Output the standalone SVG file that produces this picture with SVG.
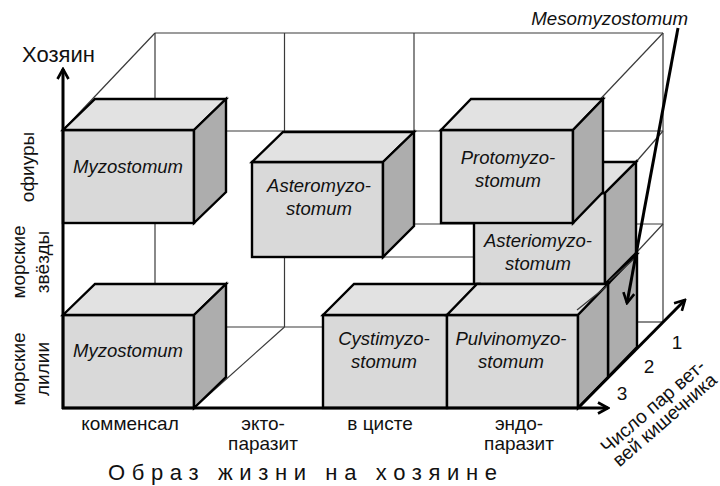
<svg xmlns="http://www.w3.org/2000/svg" width="720" height="486" viewBox="0 0 720 486">
<style>
.grid{stroke:#3a3a3a;stroke-width:1.2;fill:none}
.front{fill:#d9d9d9;stroke:#000;stroke-width:2.4;stroke-linejoin:miter}
.top{fill:#e2e2e2;stroke:#000;stroke-width:2.4;stroke-linejoin:miter}
.side{fill:#adadad;stroke:#000;stroke-width:2.4;stroke-linejoin:miter}
.lbl{font-family:"Liberation Sans",Arial,sans-serif;font-style:italic;font-size:18.5px;fill:#111;text-anchor:middle}
.txt{font-family:"Liberation Sans",Arial,sans-serif;font-size:19px;fill:#111;text-anchor:middle}
.axis{stroke:#000;stroke-width:3;fill:none}
</style>
<defs>
<marker id="ah" viewBox="0 0 14 14" refX="12" refY="7" markerWidth="14" markerHeight="14" markerUnits="userSpaceOnUse" orient="auto">
<path d="M2,1.5 L12,7 L2,12.5" fill="none" stroke="#000" stroke-width="2.6"/>
</marker>
</defs>
<g id="connectors">
<g id="grid">
<line class="grid" x1="155" y1="33" x2="663" y2="33"/>
<line class="grid" x1="63" y1="130" x2="155" y2="33"/>
<line class="grid" x1="571" y1="130" x2="663" y2="33"/>
<line class="grid" x1="155" y1="33" x2="155" y2="327"/>
<line class="grid" x1="284.5" y1="33" x2="284.5" y2="327"/>
<line class="grid" x1="414" y1="33" x2="414" y2="132"/>
<line class="grid" x1="663" y1="33" x2="663" y2="322"/>
<line class="grid" x1="155" y1="131" x2="663" y2="131"/>
<line class="grid" x1="414" y1="224" x2="663" y2="224"/>
<line class="grid" x1="383" y1="257" x2="474" y2="257"/>
<line class="grid" x1="155" y1="327" x2="323" y2="327"/>
<line class="grid" x1="637" y1="322" x2="663" y2="322"/>
<line class="grid" x1="284.5" y1="327" x2="194" y2="408"/>
<line class="grid" x1="663" y1="131" x2="636" y2="162"/>
<line class="grid" x1="663" y1="224" x2="636" y2="253"/>
</g>
</g>
<g id="astero">
<rect class="front" x="252" y="162" width="131" height="95"/>
<polygon class="top" points="252,162 283,132 414,132 383,162"/>
<polygon class="side" points="383,162 414,132 414,226 383,257"/>
<text class="lbl" x="319" y="192">Asteromyzo-</text>
<text class="lbl" x="319" y="215">stomum</text>
</g>
<g id="meso">
<rect class="front" x="477" y="284" width="131" height="93"/>
<polygon class="top" points="477,284 506,254 637,254 608,284"/>
<polygon class="side" points="608,284 637,254 637,347 608,377"/>
</g>
<g id="asterio">
<rect class="front" x="474" y="193" width="131" height="91"/>
<polygon class="top" points="474,193 505,162 636,162 605,193"/>
<polygon class="side" points="605,193 636,162 636,253 605,284"/>
<text class="lbl" x="538" y="247">Asteriomyzo-</text>
<text class="lbl" x="538" y="270">stomum</text>
</g>
<g id="proto">
<rect class="front" x="441" y="130" width="132" height="93"/>
<polygon class="top" points="441,130 471,99 603,99 573,130"/>
<polygon class="side" points="573,130 603,99 603,192 573,223"/>
<text class="lbl" x="508" y="164">Protomyzo-</text>
<text class="lbl" x="508" y="187">stomum</text>
</g>
<g id="myzo-top">
<rect class="front" x="63" y="130" width="131" height="93"/>
<polygon class="top" points="63,130 95,99 226,99 194,130"/>
<polygon class="side" points="194,130 226,99 226,192 194,223"/>
<text class="lbl" x="128" y="173">Myzostomum</text>
</g>
<g id="myzo-bottom">
<rect class="front" x="63" y="315" width="131" height="93"/>
<polygon class="top" points="63,315 95,284 226,284 194,315"/>
<polygon class="side" points="194,315 226,284 226,377 194,408"/>
<text class="lbl" x="128" y="357">Myzostomum</text>
</g>
<g id="cysti">
<rect class="front" x="323" y="315" width="124" height="93"/>
<polygon class="top" points="323,315 354,284 478,284 447,315"/>
<text class="lbl" x="384" y="345">Cystimyzo-</text>
<text class="lbl" x="384" y="368">stomum</text>
</g>
<g id="pulvino">
<rect class="front" x="447" y="315" width="131" height="93"/>
<polygon class="top" points="447,315 477,284 608,284 578,315"/>
<polygon class="side" points="578,315 608,284 608,377 578,408"/>
<text class="lbl" x="511" y="345">Pulvinomyzo-</text>
<text class="lbl" x="511" y="368">stomum</text>
</g>
<g id="overlines">
<line class="grid" x1="577" y1="310" x2="607" y2="286"/>
<line class="grid" x1="609" y1="281" x2="634" y2="259"/>
</g>
<g id="axes">
<line class="axis" x1="63" y1="409" x2="63" y2="69" marker-end="url(#ah)"/>
<line class="axis" x1="62" y1="408" x2="608" y2="408" marker-end="url(#ah)"/>
<line class="axis" x1="578" y1="408" x2="685" y2="300" marker-end="url(#ah)"/>
<line class="axis" x1="678" y1="28" x2="627" y2="303" stroke-width="2.6" marker-end="url(#ah)"/>
</g>
<g id="labels">
<text x="688" y="25" font-family="'Liberation Sans',Arial,sans-serif" font-style="italic" font-size="18.7" text-anchor="end" fill="#111">Mesomyzostomum</text>
<text x="22" y="62" font-family="'Liberation Sans',Arial,sans-serif" font-size="22" fill="#111">Хозяин</text>
<text class="txt" transform="translate(34,167) rotate(-90)">офиуры</text>
<text class="txt" transform="translate(25,262) rotate(-90)">морские</text>
<text class="txt" transform="translate(49,262) rotate(-90)">звёзды</text>
<text class="txt" transform="translate(25,369) rotate(-90)">морские</text>
<text class="txt" transform="translate(49,369) rotate(-90)">лилии</text>
<text class="txt" x="130" y="430">комменсал</text>
<text class="txt" x="263" y="430">экто-</text>
<text class="txt" x="263" y="450">паразит</text>
<text class="txt" x="380" y="430">в цисте</text>
<text class="txt" x="519" y="430">эндо-</text>
<text class="txt" x="519" y="450">паразит</text>
<text x="108" y="480" font-family="'Liberation Sans',Arial,sans-serif" font-size="22" fill="#111" textLength="389" lengthAdjust="spacing">Образ жизни на хозяине</text>
<text class="txt" x="677" y="349" font-size="20.5">1</text>
<text class="txt" x="649" y="373" font-size="20.5">2</text>
<text class="txt" x="622" y="400" font-size="20.5">3</text>
<text class="txt" font-size="15.5" transform="translate(657,411) rotate(-41)">Число пар вет-<tspan x="0" dy="18">вей кишечника</tspan></text>
</g>
</svg>
